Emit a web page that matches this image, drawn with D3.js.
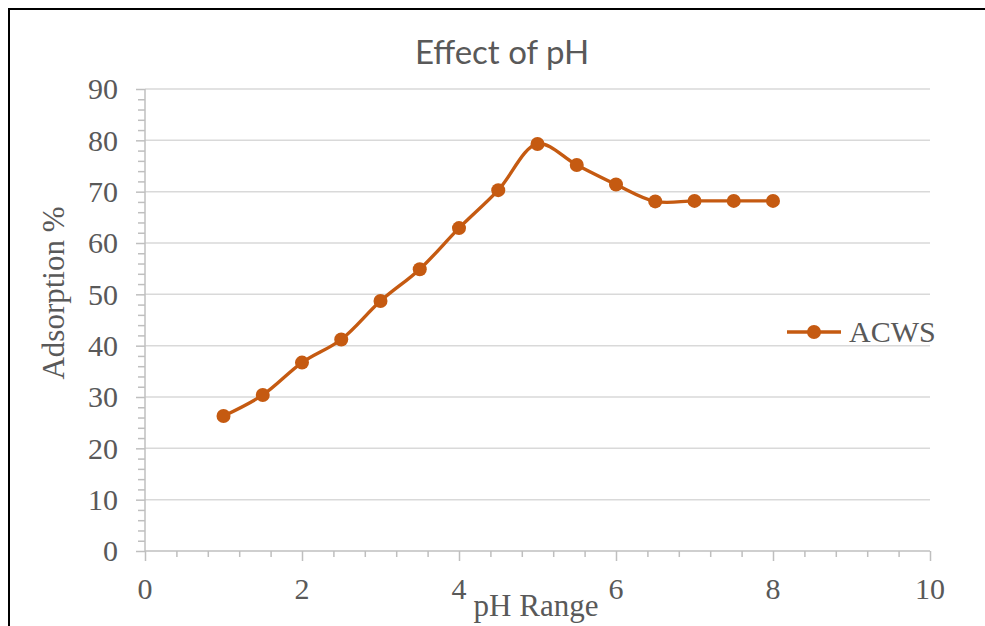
<!DOCTYPE html>
<html>
<head>
<meta charset="utf-8">
<script src="https://cdn.jsdelivr.net/npm/d3@7"></script>
<style>
  body { margin: 0; background: #fff; }
  svg { display: block; }
</style>
</head>
<body>
<div id="chart"></div>
<script>
// data
const phValues = [1, 1.5, 2, 2.5, 3, 3.5, 4, 4.5, 5, 5.5, 6, 6.5, 7, 7.5, 8];
const adsorption = [26.3, 30.4, 36.7, 41.2, 48.7, 54.9, 62.9, 70.3, 79.3, 75.2, 71.4, 68.1, 68.2, 68.2, 68.2];
const xTicks = [0, 2, 4, 6, 8, 10];
const yTicks = [0, 10, 20, 30, 40, 50, 60, 70, 80, 90];
const seriesName = "ACWS";

const width = 985, height = 626;
const orange = "#c55a11";
const textGrey = "#595959";
const serif = "'Liberation Serif', 'Times New Roman', serif";

const svg = d3.select("#chart").append("svg")
    .attr("width", width)
    .attr("height", height);

//outer frame (only left and top edges show in the crop)
svg.append("path")
    .attr("d", `M9,${height + 5} V9 H${width + 5}`)
    .attr("fill", "none")
    .attr("stroke", "#000")
    .attr("stroke-width", 2);

const x = d3.scaleLinear().domain([0, 10]).range([145, 930]);
const y = d3.scaleLinear().domain([0, 90]).range([551, 89]);

//gridlines
svg.append("g").selectAll("line")
    .data(yTicks.filter(d => d > 0))
    .join("line")
    .attr("x1", x(0)).attr("x2", x(10))
    .attr("y1", d => y(d)).attr("y2", d => y(d))
    .attr("stroke", "#d9d9d9")
    .attr("stroke-width", 1.5);

//y axis: minor ticks every 2, major every 10
const yAxis = svg.append("g").attr("transform", `translate(${x(0)},0)`);
yAxis.call(d3.axisLeft(y).tickValues(d3.range(0, 91, 2)).tickSize(7).tickFormat(""));
yAxis.call(g => g.selectAll(".tick line").filter(d => d % 10 === 0).attr("x2", -9));
yAxis.selectAll("path, line").attr("stroke", "#bfbfbf").attr("stroke-width", 1.5);
yAxis.select(".domain").attr("d", `M0,${y(0)}V${y(90)}`);

svg.append("g").selectAll("text")
    .data(yTicks)
    .join("text")
    .attr("x", 118)
    .attr("y", d => y(d))
    .attr("dy", "0.34em")
    .attr("text-anchor", "end")
    .attr("font-family", serif)
    .attr("font-size", 30)
    .attr("fill", textGrey)
    .text(d => d);

//x axis: minor ticks every 0.4
const xAxis = svg.append("g").attr("transform", `translate(0,${y(0)})`);
xAxis.call(d3.axisBottom(x).tickValues(d3.range(0, 26).map(i => i * 0.4)).tickSize(6).tickFormat(""));
xAxis.call(g => g.selectAll(".tick line").filter(d => Math.abs(d / 2 - Math.round(d / 2)) < 1e-6).attr("y2", 10));
xAxis.selectAll("path, line").attr("stroke", "#bfbfbf").attr("stroke-width", 1.5);
xAxis.select(".domain").attr("d", `M${x(0)},0H${x(10)}`);

svg.append("g").selectAll("text")
    .data(xTicks)
    .join("text")
    .attr("x", d => x(d))
    .attr("y", 599)
    .attr("text-anchor", "middle")
    .attr("font-family", serif)
    .attr("font-size", 30)
    .attr("fill", textGrey)
    .text(d => d);

//title and axis titles
svg.append("text")
    .attr("x", 502)
    .attr("y", 64)
    .attr("text-anchor", "middle")
    .attr("font-family", "Lato, 'Open Sans', sans-serif")
    .attr("font-size", 33)
    .attr("fill", textGrey)
    .text("Effect of pH");

svg.append("text")
    .attr("x", 536)
    .attr("y", 616)
    .attr("text-anchor", "middle")
    .attr("font-family", serif)
    .attr("font-size", 31)
    .attr("fill", textGrey)
    .text("pH Range");

svg.append("text")
    .attr("transform", "translate(64,293) rotate(-90)")
    .attr("text-anchor", "middle")
    .attr("font-family", serif)
    .attr("font-size", 31)
    .attr("fill", textGrey)
    .text("Adsorption %");

//smoothed series line + markers
const points = phValues.map((p, i) => [p, adsorption[i]]);
const line = d3.line()
    .x(d => x(d[0]))
    .y(d => y(d[1]))
    .curve(d3.curveCatmullRom.alpha(0.5));

svg.append("path")
    .datum(points)
    .attr("d", line)
    .attr("fill", "none")
    .attr("stroke", orange)
    .attr("stroke-width", 3.4)
    .attr("stroke-linejoin", "round");

svg.append("g").selectAll("circle")
    .data(points)
    .join("circle")
    .attr("cx", d => x(d[0]))
    .attr("cy", d => y(d[1]))
    .attr("r", 7)
    .attr("fill", orange);

//legend
const legend = svg.append("g").attr("transform", "translate(787,332)");
legend.append("line")
    .attr("x1", 0).attr("x2", 54)
    .attr("stroke", orange)
    .attr("stroke-width", 3.4);
legend.append("circle")
    .attr("cx", 27)
    .attr("r", 7)
    .attr("fill", orange);
legend.append("text")
    .attr("x", 62)
    .attr("dy", "0.34em")
    .attr("font-family", serif)
    .attr("font-size", 30)
    .attr("fill", textGrey)
    .text(seriesName);
</script>
</body>
</html>
